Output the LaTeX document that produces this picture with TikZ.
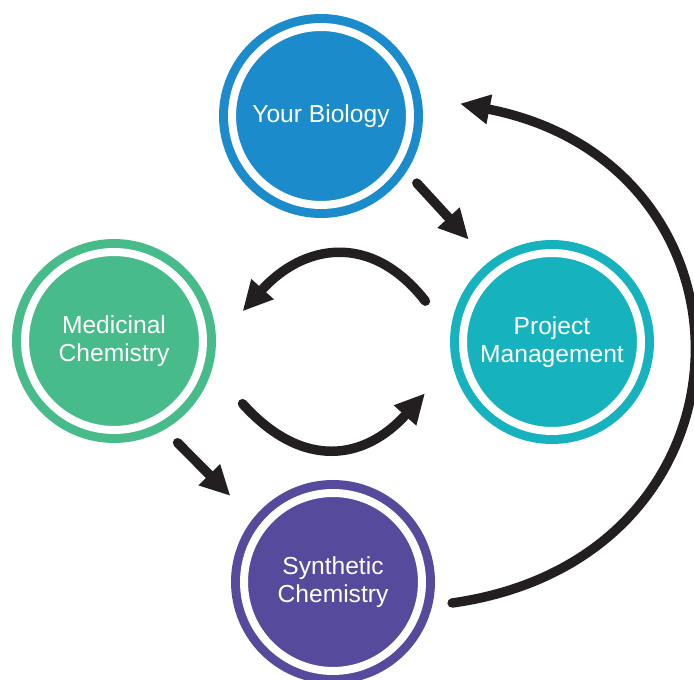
\documentclass[tikz,border=0pt]{standalone}
\usepackage{fontspec}
\setmainfont{Liberation Sans}
\usetikzlibrary{arrows.meta}
\definecolor{bioblue}{HTML}{1B8BCB}
\definecolor{pmteal}{HTML}{16B3BE}
\definecolor{medgreen}{HTML}{48BB8A}
\definecolor{synpurple}{HTML}{564A9C}
\definecolor{flowblack}{HTML}{231F20}

\begin{document}
\begin{tikzpicture}[x=0.02cm,y=0.02cm,
  disc/.style={circle,fill=#1,minimum size=4.08cm,inner sep=0pt,outer sep=0pt,
    text=white,align=center,font=\fontsize{14}{16}\selectfont,
    path picture={\draw[white,line width=0.16cm]
      (path picture bounding box.center) circle (1.78cm);}},
  flow/.style={draw=flowblack,line width=5.4pt,line cap=round,
    -{Triangle[length=17pt,width=16pt]}}]
  \useasboundingbox (0,0) rectangle (694,680);
  \node[disc=bioblue] (Bio) at (321,564) {Your Biology};
  \node[disc=pmteal] (Pm) at (552,338) {Project\\Management};
  \node[disc=medgreen] (Med) at (114,339) {Medicinal\\Chemistry};
  \node[disc=synpurple] (Syn) at (333,98) {Synthetic\\Chemistry};
  \draw[flow] ([shift={(-35:15)}]Bio.-35) -- ([shift={(129.5:30)}]Pm.129.5);
  \draw[flow] ([shift={(-58:18)}]Med.-58) -- ([shift={(140:32)}]Syn.140);
  \draw[flow] ([shift={(162.5:31)}]Pm.162.5) to[out=128,in=48,looseness=1.25]
    ([shift={(13:30)}]Med.13);
  \draw[flow] ([shift={(-26:41)}]Med.-26) to[out=-48,in=228,looseness=1.26]
    ([shift={(202:35)}]Pm.202);
  \draw[flow] ([shift={(-10:19)}]Syn.-10) to[out=8,in=-11,looseness=1.63]
    ([shift={(5.3:37.6)}]Bio.5.3);
\end{tikzpicture}
\end{document}
